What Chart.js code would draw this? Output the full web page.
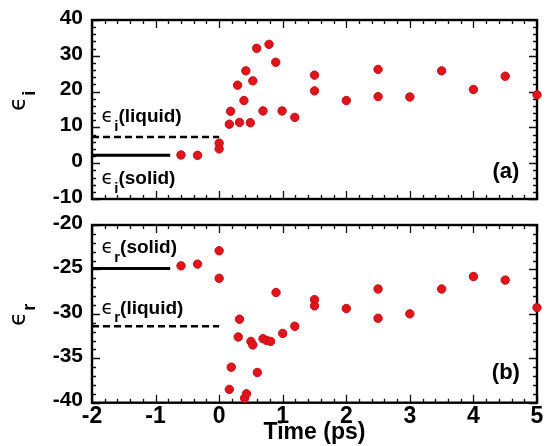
<!DOCTYPE html>
<html><head><meta charset="utf-8">
<script src="https://cdn.jsdelivr.net/npm/chart.js@4.4.1/dist/chart.umd.min.js"></script>
<style>
html,body{margin:0;padding:0;background:#fff;}
#wrap{position:relative;width:551px;height:446px;overflow:hidden;}
#wrap canvas{position:absolute;left:0;top:0;}
</style></head><body>
<div id="wrap"><canvas id="c1" width="551" height="446"></canvas><canvas id="c2" width="551" height="446"></canvas></div>
<script>
// ---- data ----
const timeTicks = [-2, -1, 0, 1, 2, 3, 4, 5];
const epsITicks = [-10, 0, 10, 20, 30, 40];
const epsRTicks = [-40, -35, -30, -25, -20];

const epsITime = [-0.60,-0.34,0,0,0.16,0.18,0.29,0.32,0.39,0.42,0.49,0.53,0.59,0.69,0.785,0.89,0.99,1.19,1.5,1.5,2.0,2.5,2.5,3.0,3.5,4.0,4.5,5.0];
const epsIValues = [2.3,2.2,5.6,4.0,10.9,14.5,21.8,11.4,17.5,25.8,11.3,23.0,32.1,14.6,33.2,28.2,14.6,12.8,24.6,20.2,17.5,26.2,18.6,18.5,25.8,20.6,24.3,19.1];

const epsRTime = [-0.60,-0.34,0,0,0.16,0.19,0.30,0.32,0.40,0.43,0.50,0.53,0.60,0.69,0.75,0.81,0.895,1.0,1.19,1.5,1.5,2.0,2.5,2.5,3.0,3.5,4.0,4.5,5.0];
const epsRValues = [-24.6,-24.4,-22.9,-26.0,-38.5,-36.0,-32.6,-30.6,-39.5,-39.0,-33.1,-33.5,-36.6,-32.8,-33.0,-33.1,-27.6,-32.2,-31.4,-28.4,-29.1,-29.4,-27.2,-30.5,-30.0,-27.2,-25.8,-26.2,-29.3];

const solidLineTime = [-2, -0.77];
const liquidLineTime = [-2, 0];
const epsISolid = 2.2, epsILiquid = 7.3;
const epsRSolid = -24.9, epsRLiquid = -31.4;

// ---- helpers ----
const RED = '#e0141b';
const FONT = '"Liberation Sans", Arial, "DejaVu Sans", sans-serif';
const pts = (xs, ys) => xs.map((x, i) => ({x, y: ys[i]}));
const hline = (xs, v) => xs.map(x => ({x, y: v}));

function framePlugin(xMinor, yMinor, yMajor) {
  return {
    id: 'frame',
    beforeDatasetsDraw(chart) {
      const {ctx, chartArea: a, scales: {x, y}} = chart;
      ctx.save();
      ctx.strokeStyle = '#111';
      ctx.lineWidth = 1.3;
      ctx.beginPath();
      const nx = Math.round((x.max - x.min) / xMinor);
      for (let i = 0; i <= nx; i++) {
        const v = x.min + i * xMinor;
        const px = Math.round(x.getPixelForValue(v)) + 0.5;
        const major = Math.abs(v - Math.round(v)) < 1e-6;
        const L = major ? 8 : 4;
        ctx.moveTo(px, a.bottom); ctx.lineTo(px, a.bottom - L);
        ctx.moveTo(px, a.top); ctx.lineTo(px, a.top + L);
      }
      const ny = Math.round((y.max - y.min) / yMinor);
      for (let i = 0; i <= ny; i++) {
        const v = y.min + i * yMinor;
        const py = Math.round(y.getPixelForValue(v)) + 0.5;
        const major = Math.abs(v / yMajor - Math.round(v / yMajor)) < 1e-6;
        const L = major ? 8 : 4;
        ctx.moveTo(a.left, py); ctx.lineTo(a.left + L, py);
        ctx.moveTo(a.right, py); ctx.lineTo(a.right - L, py);
      }
      ctx.stroke();
      ctx.lineWidth = 2.4;
      ctx.strokeStyle = '#000';
      ctx.strokeRect(a.left, a.top, a.right - a.left, a.bottom - a.top);
      ctx.restore();
    }
  };
}

function drawEps(ctx, x, y, sub, rest, size) {
  ctx.textBaseline = 'alphabetic';
  ctx.textAlign = 'left';
  ctx.font = `${size}px "DejaVu Sans", sans-serif`;
  ctx.fillText('\u03F5', x, y);
  const w = ctx.measureText('\u03F5').width;
  ctx.font = `bold ${Math.round(size * 0.8)}px ${FONT}`;
  ctx.fillText(sub, x + w + 1, y + size * 0.45);
  const ws = ctx.measureText(sub).width;
  if (rest) {
    ctx.font = `bold ${size}px ${FONT}`;
    ctx.fillText(rest, x + w + ws + 1, y);
  }
}

function textPlugin(items, title) {
  return {
    id: 'texts',
    afterDraw(chart) {
      const {ctx, scales: {x, y}} = chart;
      ctx.save();
      ctx.fillStyle = '#000';
      items.forEach(it => {
        const px = x.getPixelForValue(it.x), py = y.getPixelForValue(it.y);
        if (it.plain) {
          ctx.font = `bold ${it.size}px ${FONT}`;
          ctx.textAlign = 'center'; ctx.textBaseline = 'middle';
          ctx.fillText(it.plain, px, py);
        } else {
          drawEps(ctx, px, py, it.sub, it.rest, it.size);
        }
      });
      // rotated axis title
      ctx.translate(title.x, title.y);
      ctx.rotate(-Math.PI / 2);
      drawEps(ctx, 0, 0, title.sub, '', 23);
      ctx.restore();
    }
  };
}

const yTickCommon = {
  color: '#000',
  font: {family: FONT, size: 21, weight: 'bold', lineHeight: 1},
  padding: 9,
  labelOffset: -2
};

// ---- top chart: eps_i ----
new Chart(document.getElementById('c1'), {
  type: 'scatter',
  data: {
    datasets: [
      {type: 'line', data: hline(solidLineTime, epsISolid), borderColor: '#000', borderWidth: 3, pointRadius: 0, clip: false},
      {type: 'line', data: hline(liquidLineTime, epsILiquid), borderColor: '#000', borderWidth: 2.5, borderDash: [7, 4], pointRadius: 0, clip: false},
      {data: pts(epsITime, epsIValues), backgroundColor: RED, borderColor: '#c80c12', borderWidth: 1, pointRadius: 4.2, clip: false}
    ]
  },
  options: {
    responsive: false, animation: false,
    layout: {padding: {left: 0, right: 14, top: 20, bottom: 247}},
    plugins: {legend: {display: false}, tooltip: {enabled: false}},
    scales: {
      x: {type: 'linear', min: -2, max: 5, display: false},
      y: {
        type: 'linear', min: -10, max: 40,
        afterBuildTicks: s => { s.ticks = epsITicks.map(v => ({value: v})); },
        afterFit: s => { s.width = 92; },
        grid: {display: false, drawTicks: false},
        border: {display: false},
        ticks: yTickCommon
      }
    }
  },
  plugins: [
    framePlugin(0.2, 2, 10),
    textPlugin([
      {x: -1.85, y: 11.5, sub: 'i', rest: '(liquid)', size: 19},
      {x: -1.85, y: -5.8, sub: 'i', rest: '(solid)', size: 19},
      {x: 4.51, y: -2.5, plain: '(a)', size: 22}
    ], {x: 25, y: 111, sub: 'i'})
  ]
});

// ---- bottom chart: eps_r ----
new Chart(document.getElementById('c2'), {
  type: 'scatter',
  data: {
    datasets: [
      {type: 'line', data: hline(solidLineTime, epsRSolid), borderColor: '#000', borderWidth: 3, pointRadius: 0, clip: false},
      {type: 'line', data: hline(liquidLineTime, epsRLiquid), borderColor: '#000', borderWidth: 2.5, borderDash: [7, 4], pointRadius: 0, clip: false},
      {data: pts(epsRTime, epsRValues), backgroundColor: RED, borderColor: '#c80c12', borderWidth: 1, pointRadius: 4.2, clip: false}
    ]
  },
  options: {
    responsive: false, animation: false,
    layout: {padding: {left: 0, right: 14, top: 225, bottom: 0}},
    plugins: {legend: {display: false}, tooltip: {enabled: false}},
    scales: {
      x: {
        type: 'linear', min: -2, max: 5,
        afterBuildTicks: s => { s.ticks = timeTicks.map(v => ({value: v})); },
        afterFit: s => { s.height = 43.3; },
        grid: {display: false, drawTicks: false},
        border: {display: false},
        ticks: {color: '#000', font: {family: FONT, size: 23, weight: 'bold', lineHeight: 1}, padding: 2, maxRotation: 0},
        title: {display: true, text: 'Time (ps)', color: '#000', font: {family: FONT, size: 23, weight: 'bold', lineHeight: 1}, padding: {top: 0, bottom: 2}}
      },
      y: {
        type: 'linear', min: -40, max: -20,
        afterBuildTicks: s => { s.ticks = epsRTicks.map(v => ({value: v})); },
        afterFit: s => { s.width = 92; },
        grid: {display: false, drawTicks: false},
        border: {display: false},
        ticks: yTickCommon
      }
    }
  },
  plugins: [
    framePlugin(0.2, 1, 5),
    textPlugin([
      {x: -1.85, y: -23.2, sub: 'r', rest: '(solid)', size: 19},
      {x: -1.85, y: -30.0, sub: 'r', rest: '(liquid)', size: 19},
      {x: 4.51, y: -36.7, plain: '(b)', size: 22}
    ], {x: 25, y: 326, sub: 'r'})
  ]
});
</script>
</body></html>
